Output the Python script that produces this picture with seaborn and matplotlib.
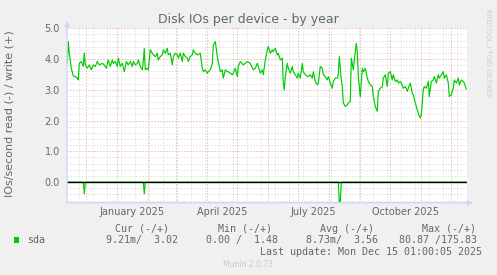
import matplotlib
matplotlib.use("Agg")
import matplotlib.pyplot as plt
import matplotlib.patches as mpatches
import numpy as np
import pandas as pd
import seaborn as sns

# ---------------- data ----------------
# day offset relative to 1 January 2025
write_days = [-50, -49, -48, -46, -44, -42, -40, -39, -38, -36, -34, -33, -32, -30, -28, -26, -24, -22, -20, -18,
              -15, -13, -11, -9, -7, -5, -4, -2, 0, 1, 3, 5, 7, 9, 11, 13, 15, 16, 18, 20,
              21, 23, 25, 26, 27, 28, 30, 31, 33, 35, 36, 38, 40, 41, 43, 45, 46, 48, 50, 51,
              53, 55, 56, 58, 60, 61, 63, 65, 66, 68, 70, 71, 73, 75, 76, 78, 80, 81, 83, 85,
              86, 88, 90, 91, 93, 95, 96, 97, 98, 100, 101, 103, 105, 106, 108, 110, 111, 113, 115, 116,
              118, 120, 121, 123, 126, 130, 133, 136, 138, 140, 141, 143, 145, 146, 148, 150, 151, 153, 155, 156,
              158, 160, 161, 163, 165, 166, 167, 168, 170, 171, 173, 175, 176, 178, 180, 181, 183, 185, 186, 188,
              190, 191, 193, 195, 196, 198, 200, 201, 203, 205, 206, 208, 210, 211, 213, 215, 216, 218, 220, 221,
              222, 224, 225, 226, 228, 230, 231, 233, 234, 236, 237, 239, 240, 241, 243, 245, 246, 248, 250, 251,
              253, 255, 256, 258, 260, 261, 263, 265, 266, 268, 270, 271, 273, 275, 276, 278, 280, 281, 283, 285,
              286, 288, 290, 291, 293, 295, 296, 298, 300, 301, 303, 304, 306, 307, 309, 311, 312, 314, 316, 317,
              319, 321, 322, 324, 326, 327, 329, 331, 332, 334, 336, 337, 339, 341, 342, 344, 346, 347, 349]
write_vals = [3.86, 4.57, 4.19, 3.70, 3.45, 3.43, 3.38, 3.32, 3.86, 3.92, 3.76, 4.19, 3.81, 3.70, 3.81, 3.65, 3.81, 3.76, 3.92, 3.81,
              3.86, 3.81, 3.70, 3.97, 3.76, 3.97, 3.86, 3.92, 3.76, 4.03, 3.76, 3.86, 3.59, 3.92, 3.81, 3.92, 3.76, 3.92, 3.81, 3.86,
              3.97, 3.76, 3.65, 3.92, 4.35, 3.65, 3.70, 3.65, 4.30, 4.19, 4.14, 4.08, 4.19, 3.97, 4.08, 4.14, 4.30, 4.19, 4.35, 4.14,
              4.19, 3.81, 4.08, 4.19, 4.14, 4.03, 4.19, 3.92, 4.19, 4.08, 4.03, 3.92, 4.08, 4.14, 4.30, 4.19, 4.14, 4.14, 4.19, 3.70,
              3.59, 3.65, 3.54, 3.59, 3.65, 3.86, 4.46, 4.51, 4.57, 4.08, 3.92, 3.59, 3.65, 3.38, 3.65, 3.59, 3.59, 3.54, 3.49, 3.54,
              3.70, 3.43, 3.76, 3.92, 3.81, 3.92, 3.86, 3.65, 3.70, 3.86, 3.76, 3.54, 3.65, 3.49, 3.97, 4.30, 4.41, 4.19, 4.30, 4.24,
              4.35, 4.14, 4.19, 3.97, 4.03, 3.22, 3.00, 3.43, 3.86, 3.70, 3.54, 3.76, 3.59, 3.49, 3.38, 3.54, 3.38, 3.86, 3.59, 3.49,
              3.43, 3.43, 3.49, 3.38, 3.59, 3.27, 3.16, 3.22, 3.76, 3.70, 3.49, 3.43, 3.32, 3.43, 3.22, 3.05, 3.27, 3.38, 3.38, 3.49,
              4.08, 3.32, 3.11, 2.57, 2.46, 2.51, 2.57, 2.62, 4.03, 3.65, 3.97, 4.51, 4.24, 3.43, 2.78, 3.70, 3.59, 3.70, 3.38, 3.27,
              3.16, 3.11, 2.78, 2.46, 2.30, 2.95, 3.05, 3.11, 3.38, 3.49, 3.11, 3.54, 3.59, 3.32, 3.49, 3.27, 3.32, 3.22, 3.27, 3.16,
              3.05, 3.11, 2.95, 3.05, 3.22, 2.89, 2.84, 2.57, 2.35, 2.24, 2.08, 2.19, 3.00, 3.11, 3.05, 3.27, 2.78, 3.27, 3.32, 3.43,
              3.22, 3.49, 3.38, 3.49, 3.59, 3.38, 3.49, 3.22, 2.78, 2.84, 3.05, 3.32, 3.22, 3.38, 3.16, 3.32, 3.27, 3.22, 3.02]

read_days = [-50, -34, -33, -32, 26, 27, 28, 221, 222, 223, 224, 349]
read_vals = [0.0, 0.0, 0.38, 0.0, 0.0, 0.38, 0.0, 0.0, 0.64, 0.64, 0.0, 0.0]

month_starts = [-31, 0, 31, 59, 90, 120, 151, 181, 212, 243, 273, 304, 334]
label_days = [15, 105, 196, 288]
label_texts = ["January 2025", "April 2025", "July 2025", "October 2025"]
y_ticks = [0, 1, 2, 3, 4, 5]
y_tick_labels = ["0.0", "1.0", "2.0", "3.0", "4.0", "5.0"]

title = "Disk IOs per device - by year"
ylabel = "IOs/second read (-) / write (+)"
series_name = "sda"
stat_headers = ["Cur (-/+)", "Min (-/+)", "Avg (-/+)", "Max (-/+)"]
stat_values = ["9.21m/  3.02", "0.00 /  1.48", "8.73m/  3.56", "80.87 /175.83"]
last_update = "Last update: Mon Dec 15 01:00:05 2025"
footer = "Munin 2.0.73"
watermark = "RRDTOOL / TOBI OETIKER"

# ---------------- figure ----------------
W, H = 497, 275
sns.set_theme(style="white")
plt.rcParams["font.family"] = ["DejaVu Sans"]

fig = plt.figure(figsize=(W / 100, H / 100), dpi=100, facecolor="#F0F0F0")
L, R, T, B = 67, 467, 28.3, 202.7
ax = fig.add_axes([L / W, 1 - B / H, (R - L) / W, (B - T) / H])
ax.set_facecolor("white")
XMIN, XMAX = -50.3, 349.7
ax.set_xlim(XMIN, XMAX)
ax.set_ylim(-0.67, 5.0)
ax.grid(False)

dots = (0, (1, 2))
# minor horizontal grid
for v in np.arange(-0.6, 5.0, 0.2):
    if abs(v - round(v)) > 1e-6:
        ax.axhline(v, color="#D4D4D4", lw=0.72, ls=dots, zorder=1)
# biweekly minor vertical grid
for d in range(-38, 350, 14):
    ax.axvline(d, color="#D4D4D4", lw=0.72, ls=dots, zorder=1)
# major grid
for v in y_ticks[1:]:
    ax.axhline(v, color="#E89A9A", lw=0.72, ls=dots, zorder=1.5)
for d in month_starts:
    ax.axvline(d, color="#E89A9A", lw=0.72, ls=dots, zorder=1.5)

df_w = pd.DataFrame({"day": write_days, "value": write_vals})
df_r = pd.DataFrame({"day": read_days, "value": [-v for v in read_vals]})
sns.lineplot(data=df_r, x="day", y="value", color="#00CC00", lw=0.85, ax=ax,
             estimator=None, sort=False, zorder=3)
sns.lineplot(data=df_w, x="day", y="value", color="#00CC00", lw=0.85, ax=ax,
             estimator=None, sort=False, zorder=3)
ax.axhline(0, color="black", lw=1.0, zorder=4)

for s in ax.spines.values():
    s.set_visible(False)

axis_col = "#CFD6F8"
ax.annotate("", xy=(0, 1.04), xytext=(0, 0), xycoords="axes fraction",
            arrowprops=dict(arrowstyle="-|>", color=axis_col, lw=1.0, mutation_scale=7,
                            shrinkA=0, shrinkB=0), annotation_clip=False, zorder=5)
ax.annotate("", xy=(1.015, 0), xytext=(0, 0), xycoords="axes fraction",
            arrowprops=dict(arrowstyle="-|>", color=axis_col, lw=1.0, mutation_scale=7,
                            shrinkA=0, shrinkB=0), annotation_clip=False, zorder=5)

ax.set_yticks(y_ticks, y_tick_labels)
ax.set_xticks(label_days, label_texts)
ax.tick_params(axis="both", length=0, labelsize=7, labelcolor="#666666")
ax.tick_params(axis="y", pad=5)
ax.tick_params(axis="x", pad=3)
ax.set_xlabel("")
ax.set_ylabel("")

def px(x, y):
    return x / W, 1 - y / H

fig.text(*px(248, 19), title, ha="center", va="center", fontsize=9, color="#666666")
fig.text(*px(10, 114), ylabel, rotation=90, ha="center", va="center", fontsize=8, color="#666666")
fig.text(*px(488, 53), watermark, rotation=270, ha="center", va="center", fontsize=5, color="#CCCCCC")

mono = dict(family="DejaVu Sans Mono", fontsize=7.2, color="#666666")
fig.patches.append(mpatches.Rectangle(px(14, 242.7), 5.3 / W, 5.4 / H, transform=fig.transFigure,
                                      facecolor="#00CC00", edgecolor="none"))
fig.text(*px(27, 240), series_name, ha="left", va="center", **mono)
hdr_right = [169, 272, 374, 476]
val_right = [178, 278, 378, 477]
for h, xr in zip(stat_headers, hdr_right):
    fig.text(*px(xr, 228.5), h, ha="right", va="center", **mono)
for v, xr in zip(stat_values, val_right):
    fig.text(*px(xr, 240), v, ha="right", va="center", **mono)
fig.text(*px(482, 251.7), last_update, ha="right", va="center", **mono)
fig.text(*px(248, 264.3), footer, ha="center", va="center", fontsize=5.5, color="#C8C8C8")

fig.savefig("out.png", dpi=100, facecolor=fig.get_facecolor())
